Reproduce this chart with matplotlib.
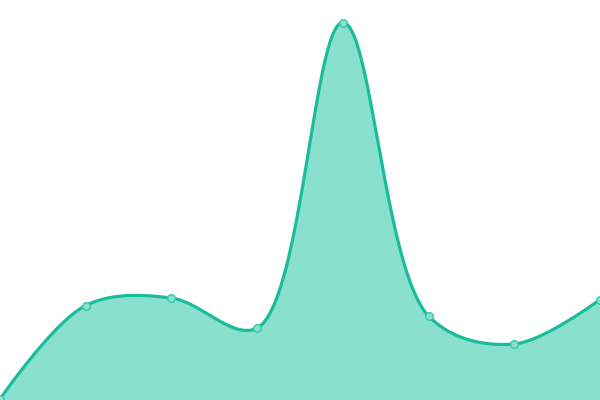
import numpy as np
import matplotlib
matplotlib.use("Agg")
import matplotlib.pyplot as plt

# values (bottom of chart = 0)
xs = [0, 1, 2, 3, 4, 5, 6, 7]
values = [1, 94.5, 102, 72, 377.5, 84, 56, 100.5]

LINE = "#1abc9c"
FILL = "#8ae0cf"

W, H = 600, 400
XMAX, YMAX = 7, 400


def catmull_rom(x, y, alpha=0.5, n=80):
    # centripetal catmull-rom, worked out in pixel space, returned in data units
    sx, sy = W / XMAX, H / YMAX
    P = np.column_stack([np.asarray(x, float) * sx, np.asarray(y, float) * sy])
    pts = np.vstack([P[:1], P, P[-1:]])
    t = np.linspace(0, 1, n)
    out = []
    eps = 1e-12
    for i in range(1, len(pts) - 2):
        p0, p1, p2, p3 = pts[i - 1], pts[i], pts[i + 1], pts[i + 2]
        d01 = np.sum((p1 - p0) ** 2) ** alpha
        d12 = np.sum((p2 - p1) ** 2) ** alpha
        d23 = np.sum((p3 - p2) ** 2) ** alpha
        l01, l12, l23 = np.sqrt(d01), np.sqrt(d12), np.sqrt(d23)
        c1, c2 = p1.copy(), p2.copy()
        if l01 > eps:
            a = 2 * d01 + 3 * l01 * l12 + d12
            c1 = (p1 * a - p0 * d12 + p2 * d01) / (3 * l01 * (l01 + l12))
        if l23 > eps:
            b = 2 * d23 + 3 * l23 * l12 + d12
            c2 = (p2 * b + p1 * d23 - p3 * d12) / (3 * l23 * (l23 + l12))
        seg = ((1 - t) ** 3)[:, None] * p1 + (3 * (1 - t) ** 2 * t)[:, None] * c1 \
            + (3 * (1 - t) * t ** 2)[:, None] * c2 + (t ** 3)[:, None] * p2
        out.append(seg)
    out = np.vstack(out)
    return out[:, 0] / sx, out[:, 1] / sy


fig = plt.figure(figsize=(6, 4), dpi=100)
ax = fig.add_axes([0, 0, 1, 1])

cx, cy = catmull_rom(xs, values)
ax.fill_between(cx, 0, cy, color=FILL, linewidth=0)
ax.plot(cx, cy, color=LINE, linewidth=2.3, solid_capstyle="round")
ax.plot(xs, values, "o", markersize=5.5, markerfacecolor=FILL,
        markeredgecolor="#3cc6aa", markeredgewidth=1.0)

ax.set_xlim(0, XMAX)
ax.set_ylim(0, YMAX)
ax.axis("off")

plt.savefig("out.png", dpi=100)
